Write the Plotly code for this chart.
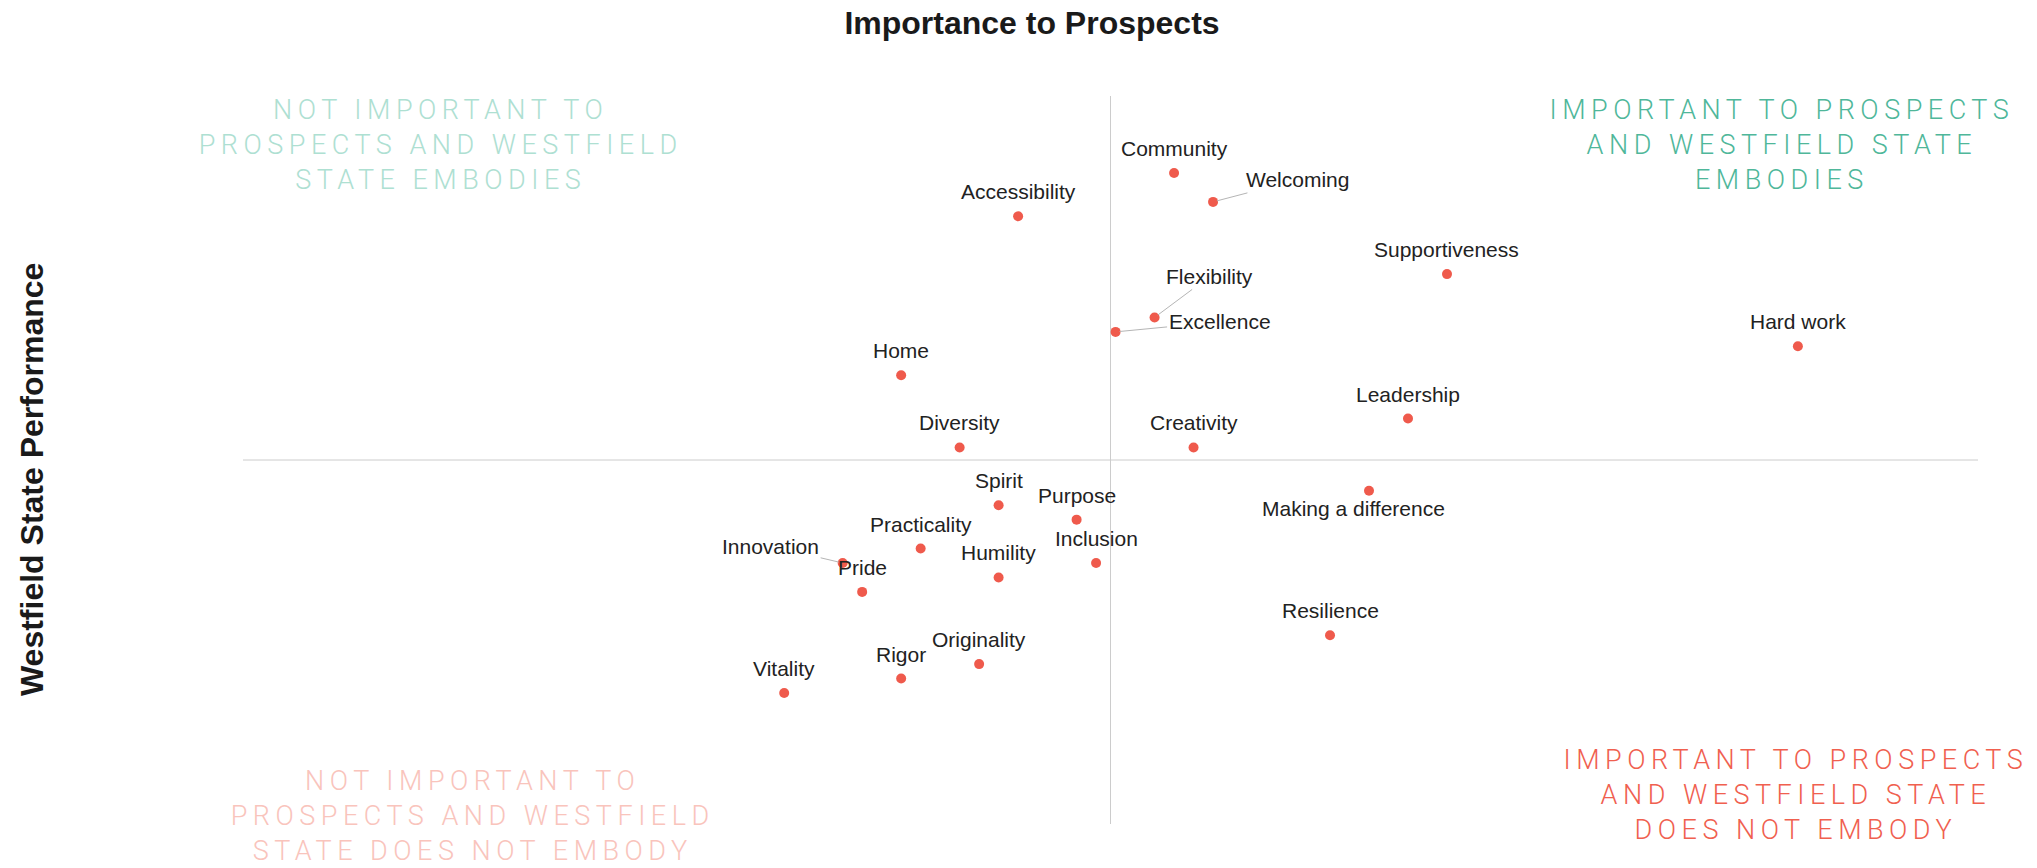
import plotly.graph_objects as go

# ---- data ----
labels = ["Community", "Welcoming", "Accessibility", "Supportiveness", "Flexibility",
          "Excellence", "Hard work", "Home", "Leadership", "Diversity", "Creativity",
          "Making a difference", "Spirit", "Purpose", "Practicality", "Innovation",
          "Inclusion", "Humility", "Pride", "Resilience", "Originality", "Rigor", "Vitality"]
importance = [20, 22, 12, 34, 19, 17, 52, 6, 32, 9, 21, 30, 11, 15, 7, 3, 16, 11, 4, 28, 10, 6, 0]
performance = [36, 34, 33, 29, 26, 25, 24, 22, 19, 17, 17, 14, 13, 12, 10, 9, 9, 8, 7, 4, 2, 1, 0]

quadrant_texts = [
    "NOT IMPORTANT TO<br>PROSPECTS AND WESTFIELD<br>STATE EMBODIES",
    "IMPORTANT TO PROSPECTS<br>AND WESTFIELD STATE<br>EMBODIES",
    "NOT IMPORTANT TO<br>PROSPECTS AND WESTFIELD<br>STATE DOES NOT EMBODY",
    "IMPORTANT TO PROSPECTS<br>AND WESTFIELD STATE<br>DOES NOT EMBODY",
]
title_x = "Importance to Prospects"
title_y = "Westfield State Performance"

# ---- styling / geometry (screen pixels; body margin removed in post script) ----
W, H = 2037, 868
PL, PR, PT, PB = 243, 1978, 96, 824          # plot area in screen px
ML, MR, MT, MB = PL, W - PR, PT, H - PB
DOT = "#EF5A4C"
LBL_FONT = dict(family="Liberation Sans, Arial, sans-serif", size=21, color="#222222")
mx = sum(importance) / len(importance)
my = sum(performance) / len(performance)

fig = go.Figure()
fig.add_trace(go.Scatter(
    x=importance, y=performance, mode="markers",
    marker=dict(size=10, color=DOT, line=dict(width=0)),
    hoverinfo="text", text=labels, cliponaxis=False, showlegend=False))

# mean lines
fig.add_shape(type="line", xref="x", yref="paper", x0=mx, x1=mx, y0=0, y1=1,
              line=dict(color="#cccccc", width=1), layer="below")
fig.add_shape(type="line", xref="paper", yref="y", x0=0, x1=1, y0=my, y1=my,
              line=dict(color="#cccccc", width=1), layer="below")

special = {
    "Welcoming": dict(arrow=True, ax=84, ay=-22),
    "Flexibility": dict(arrow=True, ax=55, ay=-41),
    "Excellence": dict(arrow=True, ax=104, ay=-10),
    "Innovation": dict(arrow=True, ax=-72, ay=-17),
    "Making a difference": dict(arrow=False, dx=-16, dy=-18),
}
ann = []
for name, xv, yv in zip(labels, importance, performance):
    s = special.get(name)
    if s and s["arrow"]:
        ann.append(dict(x=xv, y=yv, xref="x", yref="y", text=name, showarrow=True,
                        ax=s["ax"], ay=s["ay"], arrowhead=0, arrowwidth=1,
                        arrowcolor="#b5b5b5", standoff=4, font=LBL_FONT))
    else:
        dx = s["dx"] if s else 0
        dy = s["dy"] if s else 24.5
        ann.append(dict(x=xv, y=yv, xref="x", yref="y", text=name, showarrow=False,
                        xshift=dx, yshift=dy, xanchor="center", yanchor="middle",
                        font=LBL_FONT))

def px2paper(px, py):
    return (px - PL) / (PR - PL), 1 - (py - PT) / (PB - PT)

q_pos = [(440, 145), (1782, 145), (472, 816), (1796, 795)]
q_col = ["#aee0d2", "#4fb79a", "#f9c4bc", "#f0604f"]
for txt, (px, py), c in zip(quadrant_texts, q_pos, q_col):
    xp, yp = px2paper(px, py)
    ann.append(dict(x=xp, y=yp, xref="paper", yref="paper", text=txt, showarrow=False,
                    xanchor="center", yanchor="middle", align="center",
                    font=dict(family="Roboto, Liberation Sans, sans-serif", size=27,
                              weight=300, color=c)))

xp, yp = px2paper(32, 480)
ann.append(dict(x=xp, y=yp, xref="paper", yref="paper", text="<b>" + title_y + "</b>",
                showarrow=False, textangle=-90, xanchor="center", yanchor="middle",
                font=dict(family="Liberation Sans, Arial, sans-serif", size=32, color="#1a1a1a")))

fig.update_layout(
    width=W, height=H, margin=dict(l=ML, r=MR, t=MT, b=MB),
    paper_bgcolor="white", plot_bgcolor="white",
    title=dict(text="<b>" + title_x + "</b>", x=1032 / W, xref="container",
               xanchor="center", y=1 - 23 / H, yref="container", yanchor="middle",
               font=dict(family="Liberation Sans, Arial, sans-serif", size=32, color="#1a1a1a")),
    xaxis=dict(range=[mx - 44.5, mx + 44.5], visible=False, showgrid=False, zeroline=False),
    yaxis=dict(range=[my - 25.2, my + 25.2], visible=False, showgrid=False, zeroline=False),
    annotations=ann,
)

post = """
document.body.style.margin = '0';
var gd = document.getElementById('{plot_id}');
function spaceQuadrants(){
  gd.querySelectorAll('.annotation-text').forEach(function(t){
    if (t.textContent.indexOf('EMBOD') >= 0) { t.style.letterSpacing = '5.5px'; }
  });
}
spaceQuadrants();
if (gd.on) { gd.on('plotly_afterplot', spaceQuadrants); }
"""
fig.write_html("out.html", post_script=post, config={"displayModeBar": False})
